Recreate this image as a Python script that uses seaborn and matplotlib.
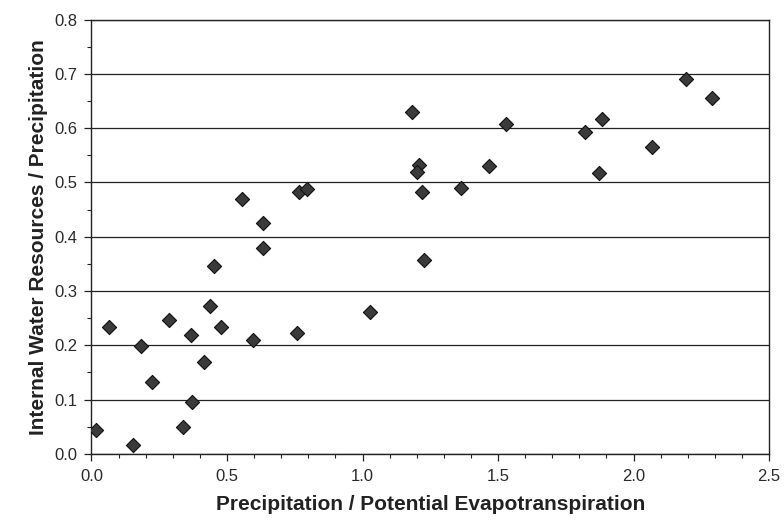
import matplotlib
matplotlib.use("Agg")
import matplotlib.pyplot as plt
import seaborn as sns
import pandas as pd
from matplotlib.ticker import MultipleLocator, FormatStrFormatter

ratio_p_pet = [0.015, 0.065, 0.152, 0.183, 0.224, 0.286, 0.339, 0.366, 0.370, 0.415,
               0.437, 0.452, 0.479, 0.557, 0.597, 0.632, 0.634, 0.759, 0.766, 0.794,
               1.028, 1.183, 1.210, 1.200, 1.221, 1.227, 1.530, 1.466, 1.362, 1.822,
               1.885, 1.874, 2.068, 2.194, 2.289]
ratio_iwr_p = [0.044, 0.234, 0.016, 0.198, 0.133, 0.247, 0.050, 0.219, 0.096, 0.169,
               0.273, 0.346, 0.234, 0.470, 0.210, 0.426, 0.379, 0.223, 0.482, 0.487,
               0.261, 0.630, 0.532, 0.520, 0.482, 0.358, 0.608, 0.531, 0.489, 0.592,
               0.617, 0.517, 0.565, 0.690, 0.655]

x_label = "Precipitation / Potential Evapotranspiration"
y_label = "Internal Water Resources / Precipitation"

df = pd.DataFrame({"x": ratio_p_pet, "y": ratio_iwr_p})

sns.set_theme(style="white")
plt.rcParams["font.family"] = ["Liberation Sans", "DejaVu Sans"]

fig = plt.figure(figsize=(7.84, 5.2), dpi=100)
ax = fig.add_axes([0.1167, 0.127, 0.981 - 0.1167, 0.9625 - 0.127])

sns.scatterplot(data=df, x="x", y="y", ax=ax, marker="D", s=52,
                color="#3a3a3a", edgecolor="#111111", linewidth=0.8, zorder=3)

ax.set_xlim(0, 2.5)
ax.set_ylim(0, 0.8)
ax.xaxis.set_major_locator(MultipleLocator(0.5))
ax.xaxis.set_minor_locator(MultipleLocator(0.1))
ax.yaxis.set_major_locator(MultipleLocator(0.1))
ax.yaxis.set_minor_locator(MultipleLocator(0.05))
ax.xaxis.set_major_formatter(FormatStrFormatter("%.1f"))
ax.yaxis.set_major_formatter(FormatStrFormatter("%.1f"))

ax.grid(axis="y", which="major", color="#222222", linewidth=0.9)
ax.set_axisbelow(True)
for sp in ax.spines.values():
    sp.set_color("#222222")
    sp.set_linewidth(1.0)

ax.tick_params(axis="both", which="major", direction="out", length=5, width=0.9,
               color="#222222", labelsize=12, labelcolor="#2a2a2a",
               bottom=True, left=True)
ax.tick_params(axis="x", which="major", pad=6)
ax.tick_params(axis="y", which="major", pad=5)
ax.tick_params(axis="both", which="minor", direction="out", length=3, width=0.8,
               color="#222222", bottom=True, left=True)

ax.set_xlabel(x_label, fontsize=15, fontweight="bold", color="#222222", labelpad=8)
ax.set_ylabel(y_label, fontsize=15, fontweight="bold", color="#222222", labelpad=5)

fig.savefig("out.png", dpi=100)
